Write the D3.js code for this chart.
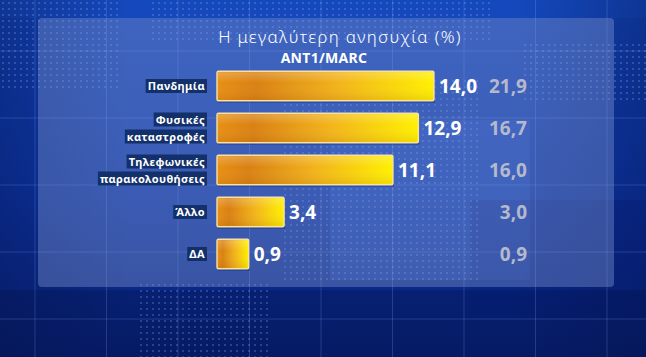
<!DOCTYPE html>
<html>
<head>
  <meta charset="UTF-8">
  <title>Η μεγαλύτερη ανησυχία</title>
  <script src="https://cdnjs.cloudflare.com/ajax/libs/d3/7.8.5/d3.min.js"></script>
  <style>
    html, body { margin: 0; padding: 0; background: #0b2a8a; overflow: hidden; }
    svg { display: block; }
    .title { font: 300 17px "Noto Sans", sans-serif; fill: #fff; letter-spacing: 1.3px; }
    .source { font: bold 14px "Noto Sans", sans-serif; fill: #fff; letter-spacing: 0.3px; }
    .cat { font: bold 11px "Noto Sans", sans-serif; fill: #fff; letter-spacing: 0.4px; }
    .val { font: bold 19px "Noto Sans", sans-serif; fill: #fff; }
    .prev { font: bold 19px "Noto Sans", sans-serif; fill: #b4b9cc; }
  </style>
</head>
<body>
<script>
  // data
  const categories = ["Πανδημία", "Φυσικές καταστροφές", "Τηλεφωνικές παρακολουθήσεις", "Άλλο", "ΔΑ"];
  const labelLines = [["Πανδημία"], ["Φυσικές", "καταστροφές"], ["Τηλεφωνικές", "παρακολουθήσεις"], ["Άλλο"], ["ΔΑ"]];
  const current = [14.0, 12.9, 11.1, 3.4, 0.9];
  const previous = [21.9, 16.7, 16.0, 3.0, 0.9];

  const W = 646, H = 357;
  const fmt = d3.formatLocale({decimal: ",", thousands: ".", grouping: [3], currency: ["", "€"]}).format(".1f");

  const svg = d3.select("body").append("svg")
    .attr("width", W)
    .attr("height", H);

  const defs = svg.append("defs");

  // background gradient
  const bg = defs.append("linearGradient").attr("id", "bg")
    .attr("x1", 0).attr("y1", 0).attr("x2", 0).attr("y2", 1);
  bg.append("stop").attr("offset", 0).attr("stop-color", "#1244b6");
  bg.append("stop").attr("offset", 0.55).attr("stop-color", "#0c33a0");
  bg.append("stop").attr("offset", 1).attr("stop-color", "#081f70");

  const side = defs.append("linearGradient").attr("id", "side")
    .attr("x1", 0).attr("y1", 0).attr("x2", 1).attr("y2", 0);
  side.append("stop").attr("offset", 0).attr("stop-color", "#04124a").attr("stop-opacity", 0.35);
  side.append("stop").attr("offset", 0.2).attr("stop-color", "#04124a").attr("stop-opacity", 0);
  side.append("stop").attr("offset", 0.8).attr("stop-color", "#04124a").attr("stop-opacity", 0);
  side.append("stop").attr("offset", 1).attr("stop-color", "#04124a").attr("stop-opacity", 0.35);

  // dot pattern
  const dots = defs.append("pattern").attr("id", "dots")
    .attr("width", 6).attr("height", 6).attr("patternUnits", "userSpaceOnUse");
  dots.append("circle").attr("cx", 3).attr("cy", 3).attr("r", 0.9)
    .attr("fill", "#9fb8ff").attr("opacity", 0.35);

  // bar gradient
  const barGrad = defs.append("linearGradient").attr("id", "barGrad")
    .attr("x1", 0).attr("y1", 0).attr("x2", 1).attr("y2", 0);
  barGrad.append("stop").attr("offset", 0).attr("stop-color", "#e88f12");
  barGrad.append("stop").attr("offset", 0.18).attr("stop-color", "#d98012");
  barGrad.append("stop").attr("offset", 0.55).attr("stop-color", "#f2b21a");
  barGrad.append("stop").attr("offset", 1).attr("stop-color", "#fff000");

  const shine = defs.append("linearGradient").attr("id", "shine")
    .attr("x1", 0).attr("y1", 0).attr("x2", 0).attr("y2", 1);
  shine.append("stop").attr("offset", 0).attr("stop-color", "#fff").attr("stop-opacity", 0.22);
  shine.append("stop").attr("offset", 0.4).attr("stop-color", "#fff").attr("stop-opacity", 0);
  shine.append("stop").attr("offset", 1).attr("stop-color", "#7a3a00").attr("stop-opacity", 0.12);

  svg.append("rect").attr("width", W).attr("height", H).attr("fill", "url(#bg)");

  // lighter / darker blocks behind
  const blocks = [
    [0, 0, 646, 18, "#1a52c8", 0.35],
    [330, 120, 200, 160, "#2a62d8", 0.25],
    [470, 200, 176, 120, "#062080", 0.35],
    [0, 290, 646, 67, "#04144f", 0.35]
  ];
  svg.selectAll(".block").data(blocks).enter().append("rect")
    .attr("x", d => d[0]).attr("y", d => d[1])
    .attr("width", d => d[2]).attr("height", d => d[3])
    .attr("fill", d => d[4]).attr("opacity", d => d[5]);

  svg.append("rect").attr("width", W).attr("height", H).attr("fill", "url(#side)");

  // dotted areas
  const dotAreas = [[0, 0, 120, 90], [150, 0, 340, 40], [140, 280, 130, 77], [280, 80, 200, 200], [520, 40, 126, 60]];
  svg.selectAll(".dotArea").data(dotAreas).enter().append("rect")
    .attr("x", d => d[0]).attr("y", d => d[1])
    .attr("width", d => d[2]).attr("height", d => d[3])
    .attr("fill", "url(#dots)");

  // grid lines
  const gx = d3.range(35, W, 71.5);
  const gy = d3.range(51, H, 67);
  svg.selectAll(".gx").data(gx).enter().append("line")
    .attr("x1", d => d).attr("x2", d => d).attr("y1", 0).attr("y2", H)
    .attr("stroke", "#8fb0ff").attr("stroke-opacity", 0.22);
  svg.selectAll(".gy").data(gy).enter().append("line")
    .attr("y1", d => d).attr("y2", d => d).attr("x1", 0).attr("x2", W)
    .attr("stroke", "#8fb0ff").attr("stroke-opacity", 0.22);

  // panel
  svg.append("rect")
    .attr("x", 38).attr("y", 18).attr("width", 576).attr("height", 269)
    .attr("rx", 4)
    .attr("fill", "#8a9ed4").attr("opacity", 0.38);

  // titles
  svg.append("text").attr("class", "title")
    .attr("x", 340).attr("y", 43).attr("text-anchor", "middle")
    .text("Η μεγαλύτερη ανησυχία (%)");
  svg.append("text").attr("class", "source")
    .attr("x", 324).attr("y", 63).attr("text-anchor", "middle")
    .text("ANT1/MARC");

  // scales
  const y = d3.scaleBand()
    .domain(categories)
    .range([65, 275])
    .paddingInner(0.3)
    .paddingOuter(0.15);

  const barX = 217;
  const x = d3.scaleLinear().domain([0, 14]).range([236, 434]);

  const rows = svg.selectAll(".row")
    .data(categories.map((c, i) => ({c, lines: labelLines[i], v: current[i], p: previous[i]})))
    .enter().append("g").attr("class", "row");

  // bar drop shadow
  rows.append("rect")
    .attr("x", barX + 1).attr("y", d => y(d.c) + 2)
    .attr("width", d => x(d.v) - barX)
    .attr("height", y.bandwidth())
    .attr("fill", "#061a5a").attr("opacity", 0.35);

  rows.append("rect")
    .attr("class", "bar")
    .attr("x", barX).attr("y", d => y(d.c))
    .attr("width", d => x(d.v) - barX)
    .attr("height", y.bandwidth())
    .attr("rx", 1.5)
    .attr("fill", "url(#barGrad)")
    .attr("stroke", "#f6e2a8").attr("stroke-width", 1.4);

  rows.append("rect")
    .attr("x", barX + 1).attr("y", d => y(d.c) + 1)
    .attr("width", d => x(d.v) - barX - 2)
    .attr("height", y.bandwidth() - 2)
    .attr("fill", "url(#shine)");

  // values
  rows.append("text").attr("class", "val")
    .attr("x", d => x(d.v) + 5)
    .attr("y", d => y(d.c) + y.bandwidth() / 2 + 7)
    .text(d => fmt(d.v));

  rows.append("text").attr("class", "prev")
    .attr("x", 527).attr("text-anchor", "end")
    .attr("y", d => y(d.c) + y.bandwidth() / 2 + 7)
    .text(d => fmt(d.p));

  // category labels with dark boxes
  rows.each(function(d) {
    const g = d3.select(this);
    const cy = y(d.c) + y.bandwidth() / 2;
    const n = d.lines.length;
    d.lines.forEach((line, k) => {
      const ly = cy + (k - (n - 1) / 2) * 17;
      const t = g.append("text").attr("class", "cat")
        .attr("x", 205).attr("y", ly + 4)
        .attr("text-anchor", "end")
        .text(line);
      const bb = t.node().getBBox();
      g.insert("rect", "text")
        .attr("x", bb.x - 2).attr("y", ly - 7)
        .attr("width", bb.width + 4).attr("height", 14)
        .attr("fill", "#0e2b62").attr("opacity", 0.9);
    });
  });
</script>
</body>
</html>
